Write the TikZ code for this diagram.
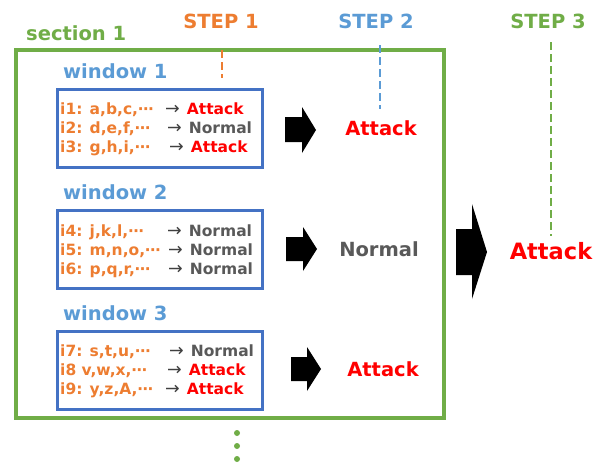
\documentclass[tikz,border=0pt]{standalone}
\usepackage{fontspec}
\setmainfont{DejaVu Sans}
\definecolor{stepOrange}{HTML}{ED7D31}
\definecolor{stepBlue}{HTML}{5B9BD5}
\definecolor{sectGreen}{HTML}{70AD47}
\definecolor{winBlue}{HTML}{4472C4}
\definecolor{resGray}{HTML}{595959}
\definecolor{arrGray}{HTML}{404040}
\definecolor{resRed}{HTML}{FF0000}
\newcommand{\fsz}[1]{\fontsize{#1}{#1}\selectfont}
\newcommand{\arr}{{\normalfont\fsz{17.5}\color{arrGray}→}\hspace{7pt}}
\begin{document}
\begin{tikzpicture}[x=1pt,y=-1pt,
  txt/.style={inner sep=0pt,anchor=base west,font=\bfseries\fsz{15.5}},
  item/.style={txt,text=stepOrange},
  atk/.style={txt,text=resRed},
  nrm/.style={txt,text=resGray},
  head/.style={inner sep=0pt,font=\bfseries\fsz{19.5}},
  result/.style={inner sep=0pt,font=\bfseries\fsz{19.5}},
  winbox/.style={draw=winBlue,line width=3pt},
  stepline/.style={line width=2pt,dash pattern=on 8pt off 4pt},
  blockarrow/.style={fill=black}]
\useasboundingbox (0,0) rectangle (603,463);

% section frame and its heading
\draw[sectGreen,line width=4.5pt] (16,50) rectangle (444,418);
\node[head,text=sectGreen,anchor=base west] (sec) at (26,40) {section 1};

% step headings with their dashed markers
\node[head,text=stepOrange,anchor=base] (s1) at (221,28) {STEP 1};
\node[head,text=stepBlue,anchor=base] (s2) at (376,28) {STEP 2};
\node[head,text=sectGreen,anchor=base] (s3) at (548,28) {STEP 3};
\coordinate (s1a) at (222,50); \coordinate (s1b) at (222,78);
\coordinate (s2a) at (380,45); \coordinate (s2b) at (380,109);
\coordinate (s3a) at (551,42); \coordinate (s3b) at (551,236);
\draw[stepline,stepOrange] (s1a) -- (s1b);
\draw[stepline,stepBlue] (s2a) -- (s2b);
\draw[stepline,sectGreen] (s3a) -- (s3b);

% windows
\node[head,text=stepBlue,anchor=base west] (w1) at (63,78) {window 1};
\node[head,text=stepBlue,anchor=base west] (w2) at (63,199) {window 2};
\node[head,text=stepBlue,anchor=base west] (w3) at (63,320) {window 3};
\draw[winbox] (57,89) rectangle (262,167);
\draw[winbox] (57,210) rectangle (262,288);
\draw[winbox] (57,331) rectangle (262,409);

% window 1 rows
\node[item] (i1) at (60,114) {i1: a,b,c,⋯};
\node[atk]  (r1) at (165,114) {\arr Attack};
\node[item] (i2) at (60,133) {i2: d,e,f,⋯};
\node[nrm]  (r2) at (167,133) {\arr Normal};
\node[item] (i3) at (60,152.5) {i3: g,h,i,⋯};
\node[atk]  (r3) at (169,152.5) {\arr Attack};
% window 2 rows
\node[item] (i4) at (60,236) {i4: j,k,l,⋯};
\node[nrm]  (r4) at (167,236) {\arr Normal};
\node[item] (i5) at (60,255) {i5: m,n,o,⋯};
\node[nrm]  (r5) at (168,255) {\arr Normal};
\node[item] (i6) at (60,274) {i6: p,q,r,⋯};
\node[nrm]  (r6) at (168,274) {\arr Normal};
% window 3 rows
\node[item] (i7) at (60,356) {i7: s,t,u,⋯};
\node[nrm]  (r7) at (169,356) {\arr Normal};
\node[item] (i8) at (60,375) {i8 v,w,x,⋯};
\node[atk]  (r8) at (167,375) {\arr Attack};
\node[item] (i9) at (60,394) {i9: y,z,A,⋯};
\node[atk]  (r9) at (165,394) {\arr Attack};

% block arrows
\fill[blockarrow] (285,117) -- (302,117) -- (302,107) -- (316,130) -- (302,153) -- (302,142) -- (285,142) -- cycle;
\fill[blockarrow] (286,237) -- (303,237) -- (303,227) -- (317,249) -- (303,271) -- (303,261) -- (286,261) -- cycle;
\fill[blockarrow] (291,357) -- (307,357) -- (307,347) -- (321,369) -- (307,391) -- (307,381) -- (291,381) -- cycle;
\fill[blockarrow] (456,229) -- (472,229) -- (472,204) -- (487,252) -- (472,299) -- (472,275) -- (456,275) -- cycle;

% per-window and overall verdicts
\node[result,text=resRed] (v1) at (381,128) {Attack};
\node[result,text=resGray] (v2) at (379,249) {Normal};
\node[result,text=resRed] (v3) at (383,369) {Attack};
\node[result,text=resRed,font=\bfseries\fsz{22.5}] (v) at (551,251) {Attack};

% continuation dots
\foreach \yy in {433,446,459} \fill[sectGreen] (237,\yy) circle (3);
\end{tikzpicture}
\end{document}
